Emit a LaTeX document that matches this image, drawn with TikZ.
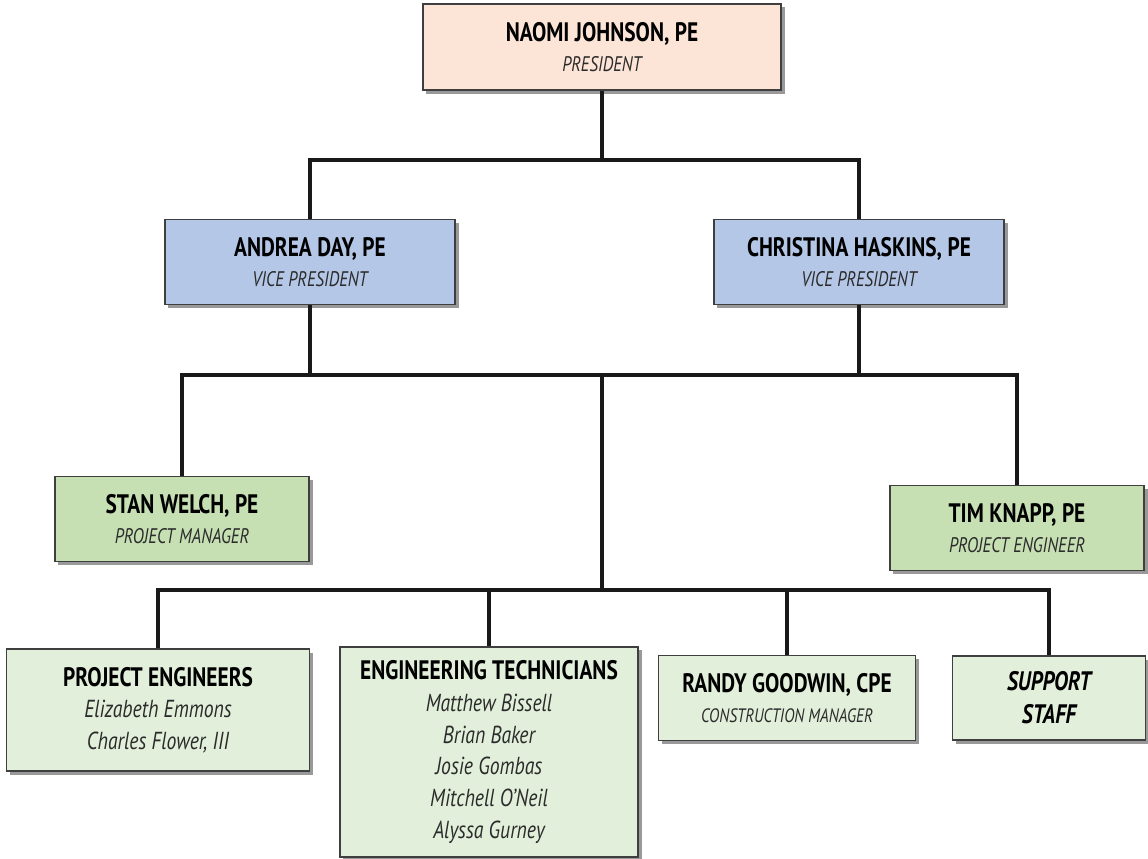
\documentclass[tikz,border=0pt]{standalone}
\usepackage{fontspec}
\setmainfont{PT Sans}[FakeStretch=0.8]
\usepackage{xcolor}
\usetikzlibrary{shadows, positioning}

\definecolor{peach}{HTML}{FCE5D7}
\definecolor{vpblue}{HTML}{B4C7E7}
\definecolor{pmgreen}{HTML}{C6E0B4}
\definecolor{staffgreen}{HTML}{E2EFDA}
\definecolor{boxline}{HTML}{3F3F3F}
\definecolor{roletext}{HTML}{2B2B2B}

\newcommand{\who}[1]{{\fontsize{19}{21.5}\selectfont\bfseries #1}}
\newcommand{\role}[1]{{\color{roletext}\itshape #1}}

\begin{document}
\begin{tikzpicture}[
    x=0.025cm, y=-0.025cm,
    box/.style={rectangle, draw=boxline, line width=1.3pt, align=center, inner sep=2pt,
        font=\fontsize{15}{21.5}\selectfont,
        drop shadow={shadow xshift=2.5pt, shadow yshift=-2.5pt, opacity=0.4, fill=black}},
    chief/.style={box, fill=peach, minimum width=8.95cm, minimum height=2.15cm},
    vp/.style={box, fill=vpblue, minimum width=7.25cm, minimum height=2.125cm},
    pm/.style={box, fill=pmgreen, minimum width=6.35cm, minimum height=2.125cm},
    staff/.style={box, fill=staffgreen},
    link/.style={line width=2.2pt, black!90}
]
\useasboundingbox (0,0) rectangle (1148,859);

% Top
\node[chief] (pres) at (602,47) {\who{NAOMI JOHNSON, PE}\\\role{PRESIDENT}};

% Vice presidents
\node[vp] (andrea) at (310,262) {\who{ANDREA DAY, PE}\\\role{VICE PRESIDENT}};
\node[vp] (christina) at (859,262) {\who{CHRISTINA HASKINS, PE}\\\role{VICE PRESIDENT}};

% Project leads
\node[pm] (stan) at (182,519) {\who{STAN WELCH, PE}\\\role{PROJECT MANAGER}};
\node[pm] (tim) at (1017,528) {\who{TIM KNAPP, PE}\\\role{PROJECT ENGINEER}};

% Staff
\node[staff, minimum width=7.575cm, minimum height=3.05cm, font=\fontsize{17.5}{22.5}\selectfont] (engs) at (158,710)
    {\who{PROJECT ENGINEERS}\\\role{Elizabeth Emmons}\\\role{Charles Flower, III}};
\node[staff, minimum width=7.45cm, minimum height=5.25cm, font=\fontsize{17.5}{22.7}\selectfont] (techs) at (489,752)
    {\who{ENGINEERING TECHNICIANS}\\\role{Matthew Bissell}\\\role{Brian Baker}\\\role{Josie Gombas}\\\role{Mitchell O'Neil}\\\role{Alyssa Gurney}};
\node[staff, minimum width=6.425cm, minimum height=2.125cm] (randy) at (787,698)
    {\who{RANDY GOODWIN, CPE}\\{\fontsize{13.8}{21.5}\selectfont\role{CONSTRUCTION MANAGER}}};
\node[staff, minimum width=4.825cm, minimum height=2.1cm, font=\fontsize{19}{23.5}\selectfont\bfseries\itshape] (support) at (1049,698)
    {SUPPORT\\STAFF};

% Junctions
\coordinate (j1) at (602,160);
\coordinate (j2) at (602,375);
\coordinate (j3) at (602,590);

% Connectors
\draw[link] (pres) -- (j1);
\draw[link] (andrea.north) |- (j1) -| (christina.north);
\draw[link] (andrea.south) -- (andrea.south |- j2);
\draw[link] (christina.south) -- (christina.south |- j2);
\draw[link] (stan.north) |- (j2) -| (tim.north);
\draw[link] (j2) -- (j3);
\draw[link] (engs.north) |- (j3) -| (support.north);
\draw[link] (techs.north) -- (techs.north |- j3);
\draw[link] (randy.north) -- (randy.north |- j3);

\end{tikzpicture}
\end{document}
